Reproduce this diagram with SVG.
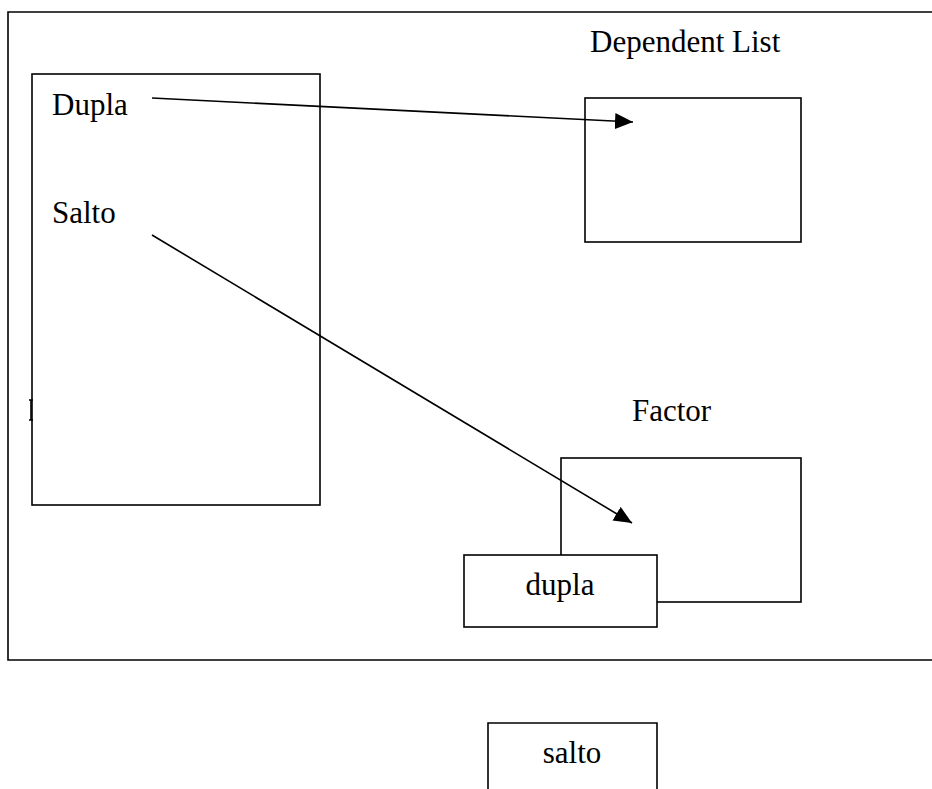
<svg xmlns="http://www.w3.org/2000/svg" width="932" height="789" viewBox="0 0 932 789">
<style>
.box{fill:#fff;stroke:#000;stroke-width:1.6}
.ln{fill:none;stroke:#000;stroke-width:1.6}
.t{font-family:"Liberation Serif","Times New Roman",serif;font-size:31px;fill:#000}
</style>
<defs>
<marker id="ah2" viewBox="0 0 10 10" refX="10" refY="5" markerWidth="18" markerHeight="16" markerUnits="userSpaceOnUse" orient="auto" preserveAspectRatio="none">
<path d="M0,0 L10,5 L0,10 Z" fill="#000"/>
</marker>
</defs>
<rect width="932" height="789" fill="#fff"/>
<g id="frame">
<path class="ln" d="M940,12 H8 V660 H940"/>
</g>
<g id="source">
<rect class="box" x="32" y="74" width="288" height="431"/>
<text class="t" x="52" y="115">Dupla</text>
<text class="t" x="52" y="223">Salto</text>
<path class="ln" d="M29,400 H33 M29,420 H33 M31,400 V420" stroke-width="1.4"/>
</g>
<g id="dependent-list">
<text class="t" x="590" y="52">Dependent List</text>
<rect class="box" x="585" y="98" width="216" height="144"/>
</g>
<g id="factor">
<text class="t" x="632" y="421">Factor</text>
<rect class="box" x="561" y="458" width="240" height="144"/>
</g>
<g id="dupla">
<rect class="box" x="464" y="555" width="193" height="72"/>
<text class="t" x="560" y="595" text-anchor="middle">dupla</text>
</g>
<g id="salto">
<path class="box" d="M488,795 V723 H657 V795"/>
<text class="t" x="572" y="763" text-anchor="middle">salto</text>
</g>
<g id="connectors">
<line class="ln" x1="152" y1="98" x2="633" y2="122" marker-end="url(#ah2)"/>
<line class="ln" x1="152" y1="235" x2="632" y2="523" marker-end="url(#ah2)"/>
</g>
</svg>
